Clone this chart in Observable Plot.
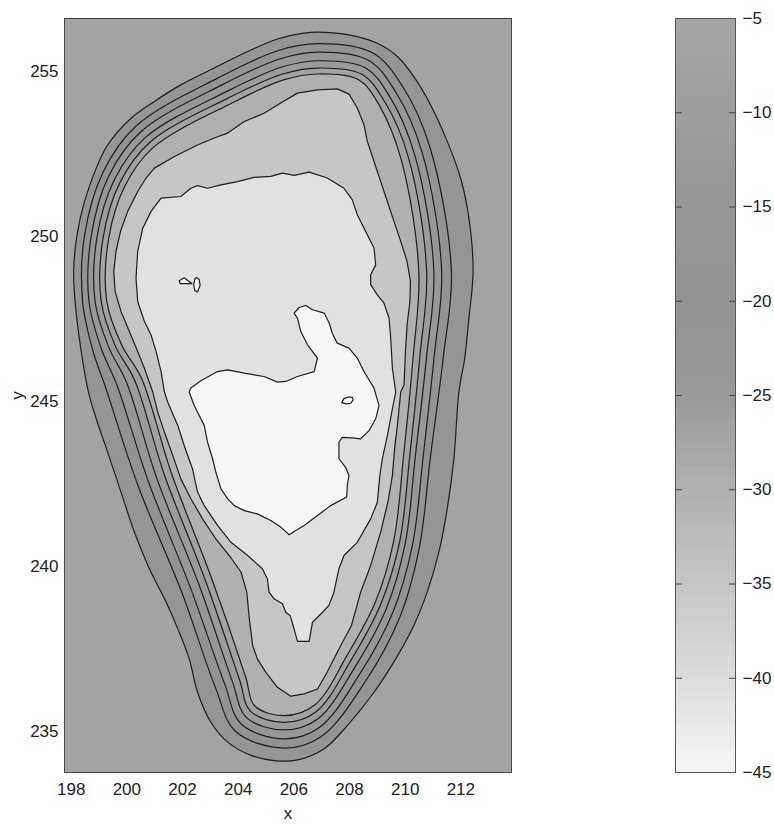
<!DOCTYPE html>
<html><head><meta charset="utf-8">
<script src="https://cdn.jsdelivr.net/npm/d3@7"></script>
<script src="https://cdn.jsdelivr.net/npm/@observablehq/plot@0.6"></script>
<style>
body{margin:0;background:#fff;}
#wrap{position:relative;width:774px;height:825px;font-family:"Liberation Sans",Arial,sans-serif;}
#main{position:absolute;left:0;top:0;}
#cbar{position:absolute;left:675px;top:0;}
</style></head><body><div id="wrap"><div id="main"></div><div id="cbar"></div></div>
<script>
const xTicks = [198, 200, 202, 204, 206, 208, 210, 212];
const yTicks = [235, 240, 245, 250, 255];
const cbTicks = [-45, -40, -35, -30, -25, -20, -15, -10, -5];
const cmapValues = [-45, -40, -35, -30, -25, -20, -15, -10, -5];
const cmapColors = ["#f6f6f6", "#dcdcdc", "#c6c6c6", "#b0b0b0", "#9a9a9a", "#939393", "#979797", "#9e9e9e", "#a5a5a5"];
// value represented by each filled band: outside L1, inside L1, ..., inside L9
const bandValues = [-6.5, -17.5, -20, -22.5, -25.3, -27, -30, -35, -41, -45];

const contour1 = [[206.85,256.19],[207.92,256.11],[209.0,255.85],[209.72,255.45],[210.31,254.84],[210.91,253.99],[211.51,252.88],[211.99,251.77],[212.29,250.56],[212.44,248.94],[212.29,247.53],[212.14,246.32],[211.93,245.29],[211.75,243.27],[211.51,241.75],[211.21,240.44],[210.79,239.23],[210.31,238.22],[209.66,237.21],[208.88,236.20],[207.92,235.19],[207.09,234.49],[206.13,234.15],[205.29,234.13],[204.46,234.29],[203.62,234.69],[203.02,235.29],[202.54,236.20],[202.24,237.21],[201.88,238.02],[201.41,238.93],[200.81,239.94],[200.27,241.05],[199.79,242.26],[199.31,243.47],[198.90,244.48],[198.62,245.29],[198.36,246.52],[198.14,248.03],[198.09,248.94],[198.21,250.05],[198.48,251.06],[198.90,252.07],[199.31,252.77],[200.15,253.58],[200.99,254.09],[201.94,254.59],[203.14,255.10],[204.34,255.60],[205.41,255.98],[206.37,256.16]];
const contour2 = [[206.85,255.84],[208.83,255.56],[209.91,254.54],[210.90,252.67],[211.66,248.94],[211.37,246.35],[210.91,243.34],[210.51,240.59],[209.81,238.48],[208.58,236.54],[206.99,234.86],[205.65,234.51],[203.91,235.01],[203.17,236.37],[201.99,239.19],[200.40,242.46],[199.24,245.42],[198.77,246.57],[198.41,248.03],[198.48,250.03],[199.14,251.94],[200.35,253.36],[203.30,254.81],[205.47,255.64]];
const contour3 = [[206.85,255.58],[208.69,255.33],[209.67,254.36],[210.60,252.57],[211.31,248.94],[211.04,246.36],[210.65,243.36],[210.26,240.65],[209.55,238.61],[208.38,236.77],[206.93,235.14],[205.65,234.79],[204.11,235.24],[203.51,236.46],[202.30,239.33],[200.77,242.59],[199.64,245.51],[199.08,246.61],[198.64,248.03],[198.72,250.01],[199.35,251.83],[200.51,253.18],[203.42,254.59],[205.52,255.38]];
const contour4 = [[206.85,255.32],[208.56,255.11],[209.46,254.21],[210.34,252.48],[211.03,248.94],[210.77,246.37],[210.37,243.38],[210.00,240.70],[209.32,238.73],[208.20,236.97],[206.87,235.40],[205.65,235.06],[204.29,235.44],[203.79,236.53],[202.59,239.46],[201.07,242.69],[199.99,245.58],[199.35,246.65],[198.86,248.03],[198.93,249.99],[199.56,251.73],[200.67,253.00],[203.54,254.37],[205.57,255.13]];
const contour5 = [[206.85,255.10],[208.44,254.91],[209.27,254.07],[210.11,252.41],[210.77,248.94],[210.53,246.38],[210.17,243.40],[209.80,240.75],[209.11,238.84],[208.04,237.15],[206.81,235.62],[205.65,235.29],[204.45,235.62],[204.04,236.60],[202.83,239.57],[201.35,242.78],[200.28,245.65],[199.59,246.68],[199.08,248.03],[199.15,249.97],[199.75,251.63],[200.81,252.84],[203.64,254.19],[205.60,254.92]];
const contour6 = [[206.85,254.92],[208.34,254.74],[209.09,253.94],[209.86,252.32],[210.49,248.94],[210.29,246.39],[209.95,243.42],[209.59,240.79],[208.93,238.93],[207.90,237.30],[206.76,235.82],[205.65,235.49],[204.59,235.79],[204.27,236.66],[203.04,239.66],[201.59,242.86],[200.53,245.70],[199.82,246.71],[199.28,248.03],[199.35,249.95],[199.93,251.53],[200.94,252.69],[203.73,254.02],[205.63,254.74]];
const contour7 = [[200.99,252.07],[201.71,252.42],[202.54,252.77],[203.14,252.98],[203.62,253.13],[204.22,253.48],[204.93,253.73],[205.53,254.04],[206.13,254.34],[206.85,254.44],[207.56,254.47],[207.98,254.31],[208.28,253.89],[208.52,253.38],[208.64,252.88],[208.88,252.27],[209.12,251.66],[209.36,251.06],[209.60,250.45],[209.84,249.85],[210.07,249.24],[210.19,248.64],[210.17,248.03],[210.07,247.33],[210.01,246.52],[209.96,245.51],[209.84,245.29],[209.72,244.28],[209.62,243.57],[209.54,242.76],[209.38,241.96],[209.12,241.05],[208.76,240.04],[208.40,239.23],[208.07,238.22],[207.62,237.51],[207.20,236.81],[206.85,236.30],[206.37,236.15],[205.89,236.08],[205.41,236.35],[204.99,236.81],[204.69,237.21],[204.52,237.62],[204.40,238.42],[204.31,239.23],[204.10,239.84],[203.68,240.34],[203.20,240.84],[202.72,241.45],[202.30,242.06],[201.94,242.66],[201.65,243.37],[201.35,244.07],[201.11,244.68],[200.93,245.29],[200.84,245.51],[200.63,246.01],[200.39,246.52],[200.09,247.12],[199.79,247.73],[199.58,248.33],[199.53,248.94],[199.61,249.55],[199.77,250.15],[200.03,250.76],[200.39,251.36],[200.69,251.77]];
const contour8 = [[201.23,251.16],[201.94,251.21],[202.30,251.46],[202.54,251.54],[202.90,251.46],[203.38,251.56],[203.98,251.66],[204.57,251.79],[205.17,251.82],[205.59,251.92],[206.01,251.85],[206.55,251.95],[207.20,251.77],[207.80,251.46],[208.10,251.11],[208.28,250.66],[208.58,250.15],[208.88,249.65],[208.94,249.14],[208.76,248.84],[208.76,248.54],[209.00,248.23],[209.24,247.98],[209.42,247.53],[209.48,246.92],[209.54,246.01],[209.66,245.29],[209.54,244.78],[209.36,243.97],[209.18,243.27],[209.09,242.76],[209.00,241.95],[208.76,241.45],[208.28,240.74],[207.80,240.34],[207.62,239.94],[207.44,239.23],[207.26,238.83],[206.97,238.57],[206.67,238.32],[206.55,237.74],[206.13,237.74],[206.01,238.12],[205.87,238.52],[205.71,238.62],[205.59,238.88],[205.29,239.03],[205.11,239.23],[205.05,239.63],[204.87,239.94],[204.34,240.34],[203.74,240.74],[203.26,241.25],[202.78,241.85],[202.54,242.26],[202.36,242.96],[202.06,243.67],[201.83,244.28],[201.47,244.98],[201.35,245.29],[201.23,245.91],[201.05,246.52],[200.87,247.02],[200.63,247.43],[200.39,248.03],[200.33,248.74],[200.39,249.55],[200.57,250.25],[200.87,250.76]];
const contour9 = [[202.30,245.41],[202.66,245.63],[203.26,245.91],[203.62,245.96],[204.22,245.86],[204.93,245.76],[205.41,245.59],[205.71,245.61],[206.13,245.76],[206.73,245.91],[206.85,246.32],[206.49,246.72],[206.25,247.12],[206.13,247.53],[206.01,247.68],[206.19,247.85],[206.43,247.91],[206.67,247.78],[207.09,247.68],[207.27,247.38],[207.38,247.07],[207.56,246.77],[207.98,246.62],[208.28,246.32],[208.52,245.91],[208.88,245.41],[209.06,244.88],[208.94,244.48],[208.70,244.12],[208.40,243.87],[208.10,243.90],[207.74,243.92],[207.62,243.77],[207.62,243.27],[207.86,243.01],[207.98,242.76],[207.92,242.46],[207.90,242.11],[207.32,241.85],[206.85,241.55],[206.37,241.25],[206.07,241.10],[205.83,240.97],[205.53,241.20],[205.17,241.40],[204.69,241.60],[204.22,241.70],[203.86,241.85],[203.62,242.06],[203.38,242.36],[203.20,242.86],[203.08,243.27],[202.90,243.77],[202.78,244.28],[202.60,244.58],[202.42,244.88],[202.24,245.29]];
const islandA = [[202.50,248.76],[202.60,248.70],[202.63,248.52],[202.54,248.32],[202.44,248.36],[202.40,248.55],[202.45,248.72]];
const islandB = [[201.88,248.66],[202.06,248.75],[202.34,248.57],[201.92,248.57]];
const islandC = [[207.72,244.97],[207.80,245.09],[207.95,245.14],[208.10,245.13],[208.13,245.05],[208.05,244.95],[207.88,244.93]];

const smooth = [contour1, contour2, contour3, contour4, contour5, contour6];
const rough = [contour7, contour8, contour9, islandA, islandB, islandC];
const roughBand = [7, 8, 9, 9, 9, 9];

const toRows = (polys, bands, offset) => polys.flatMap((p, i) =>
  p.map(([x, y]) => ({id: offset + i, v: bandValues[bands[i]], x, y})));
const smoothRows = toRows(smooth, [1, 2, 3, 4, 5, 6], 0);
const roughRows = toRows(rough, roughBand, 100);

const font = '"Liberation Sans", Arial, sans-serif';
const colorScale = {type: "linear", domain: cmapValues, range: cmapColors};

const main = Plot.plot({
  width: 530, height: 825,
  marginLeft: 64, marginRight: 19, marginTop: 18, marginBottom: 53,
  style: {fontFamily: font, fontSize: "17px", background: "transparent", color: "#222"},
  x: {domain: [197.76, 213.82], ticks: xTicks, tickSize: 0, tickPadding: 10, label: "x", labelAnchor: "center", labelOffset: 46, labelArrow: "none"},
  y: {domain: [233.77, 256.6], ticks: yTicks, tickSize: 0, tickPadding: 6, label: "y", labelAnchor: "center", labelOffset: 54, labelArrow: "none"},
  color: colorScale,
  marks: [
    Plot.rect([{v: bandValues[0]}], {fill: "v"}),
    Plot.line(smoothRows, {x: "x", y: "y", z: "id", fill: "v", stroke: "#1e1e1e", strokeWidth: 1.2, curve: "catmull-rom-closed"}),
    Plot.line(roughRows, {x: "x", y: "y", z: "id", fill: "v", stroke: "#1e1e1e", strokeWidth: 1.2, curve: "linear-closed"}),
    Plot.frame({stroke: "#444", strokeWidth: 1})
  ]
});
document.getElementById("main").appendChild(main);

const cbSteps = d3.range(64).map(i => ({y1: -45 + i * 40 / 64, y2: -45 + (i + 1) * 40 / 64}));
const cbar = Plot.plot({
  width: 99, height: 825,
  marginLeft: 0, marginRight: 39, marginTop: 18, marginBottom: 53,
  style: {fontFamily: font, fontSize: "17px", background: "transparent", color: "#222"},
  x: {axis: null},
  y: {domain: [-45, -5]},
  color: colorScale,
  marks: [
    Plot.rect(cbSteps, {y1: "y1", y2: "y2", fill: d => (d.y1 + d.y2) / 2, stroke: d => (d.y1 + d.y2) / 2, strokeWidth: 0.6, shapeRendering: "crispEdges"}),
    Plot.axisY(cbTicks, {anchor: "right", tickSize: 0, tickPadding: 7, tickFormat: d => "\u2212" + Math.abs(d)}),
    Plot.axisY(cbTicks, {anchor: "right", tickSize: -7, tickFormat: () => "", stroke: "#444"}),
    Plot.axisY(cbTicks, {anchor: "left", tickSize: -7, tickFormat: () => "", stroke: "#444"}),
    Plot.frame({stroke: "#555", strokeWidth: 1})
  ]
});
document.getElementById("cbar").appendChild(cbar);
</script></body></html>
